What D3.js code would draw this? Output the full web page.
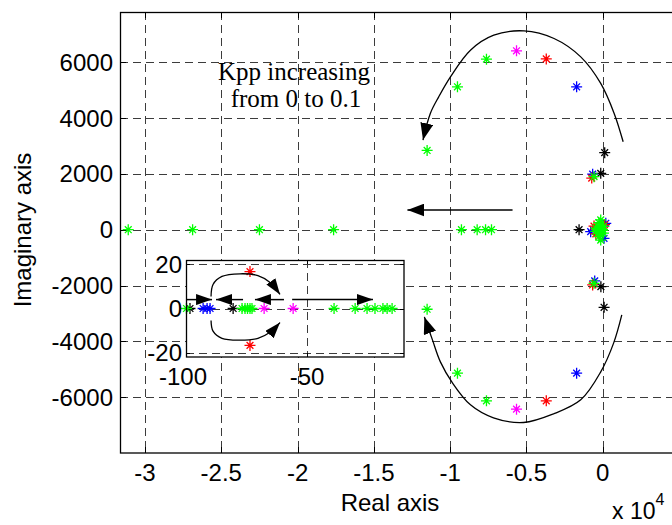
<!DOCTYPE html>
<html>
<head>
<meta charset="utf-8">
<script src="https://cdn.jsdelivr.net/npm/d3@7"></script>
<style>
  body { margin: 0; background: #fff; }
  text { font-family: "Liberation Sans", Arial, Helvetica, sans-serif; }
</style>
</head>
<body>
<svg id="chart" width="672" height="525"></svg>
<script>
// ---- Root locus data: closed-loop poles [real, imag] for each colour ----
const polesBlack = [[-1550, 0], [130, 2760], [-130, 2020], [-120, -2040], [90, -2780]];
const polesBlue = [[-1710, 5120], [-1710, -5140], [-660, 1990], [-525, -1835],
                   [-790, -70], [200, 230], [85, -310]];
const polesRed = [[-3700, 6120], [-3700, -6130], [-720, 1850], [-660, -1980],
                  [-570, 130], [-450, -150], [120, 180]];
const polesMagenta = [[-5650, 6410], [-5650, -6430]];
const polesGreen = [[-7620, 6110], [-7620, -6130], [-9520, 5120], [-9520, -5140],
                    [-11510, 2840], [-11510, -2850],
                    [-31100, 0], [-26880, 0], [-22500, 0], [-17640, 0],
                    [-9260, 0], [-8230, 0], [-7680, 0], [-7290, 0],
                    [-570, 1900], [-570, -1920],
                    [-130, 350], [-130, -370], [-350, 0], [-150, 150], [-150, -150],
                    [-450, 60], [-450, -60], [50, 120], [50, -120], [-250, 250], [-250, -250]];

// Poles close to the origin (shown enlarged in the inset)
const nearBlack = [[-97.2, 0], [-79.8, 0]];
const nearBlue = [[-91.9, 0], [-90.3, 0], [-89.1, 0]];
const nearRed = [[-73, 16.6], [-73, -16.6]];
const nearMagenta = [[-67.3, 0], [-55.6, 0]];
const nearGreen = [[-98.6, 0], [-76.2, 0], [-75, 0], [-74, 0], [-73, 0], [-72.2, 0],
                   [-39.1, 0], [-30.6, 0], [-25.8, 0], [-22.6, 0], [-19.4, 0], [-17.7, 0], [-15.7, 0]];

// Axis ticks
const xTicks = [-30000, -25000, -20000, -15000, -10000, -5000, 0];
const yTicks = [-6000, -4000, -2000, 0, 2000, 4000, 6000];
const insetXTicks = [-100, -50];
const insetYTicks = [-20, 0, 20];

// Direction arrows (data coordinates)
const arcUpper = [[1340, 3150], [750, 4166], [-130, 5240], [-1440, 6192], [-3190, 6851],
                  [-5160, 7123], [-7140, 6969], [-8670, 6432], [-9980, 5476],
                  [-10750, 4760], [-11300, 4166], [-11780, 3210]];
const arcLower = [[1250, -3053], [720, -4055], [-130, -5093], [-1440, -6095], [-3220, -6596],
                  [-5190, -6907], [-7160, -6739], [-8670, -6274], [-9850, -5487],
                  [-10640, -4735], [-11160, -3948], [-11690, -3124]];
const arrowLeft = [[-5910, 705], [-12800, 705]];

const insetArcUpper = [[-88.7, 5.4], [-87.9, 10.8], [-84.3, 14.4], [-77.0, 15.6],
                       [-69.8, 14.8], [-64.9, 11.7], [-60.9, 6.3]];
const insetArcLower = [[-88.7, -5.4], [-87.9, -10.2], [-84.3, -13.4], [-77.0, -14.2],
                       [-69.8, -13.4], [-64.9, -10.7], [-60.9, -6.3]];
const insetArrows = [
  [[-98.4, 4.0], [-88.3, 4.0]],
  [[-75.8, 4.0], [-86.7, 4.0]],
  [[-59.3, 4.0], [-71.0, 4.0]],
  [[-56.0, 4.0], [-23.4, 4.0]]
];

const annotation = ["Kpp increasing", "from 0 to 0.1"];

// ---- Layout ----
const svg = d3.select("#chart");
const x = d3.scaleLinear().domain([-31640, 5000]).range([120, 679]);
const y = d3.scaleLinear().domain([-8000, 7800]).range([453, 12]);
const xi = d3.scaleLinear().domain([-98.8, -10.9]).range([186, 404]);
const yi = d3.scaleLinear().domain([-21.8, 21.8]).range([357, 260]);

const colors = { black: "#000000", blue: "#0000ff", red: "#ff0000", magenta: "#ff00ff", green: "#00ff00" };
const fmt = v => String(v);

svg.append("rect").attr("width", 672).attr("height", 525).attr("fill", "#fff");

// arrowhead markers
const defs = svg.append("defs");
function marker(id, len, half) {
  defs.append("marker")
    .attr("id", id).attr("markerUnits", "userSpaceOnUse")
    .attr("viewBox", `0 ${-half} ${len} ${2 * half}`)
    .attr("refX", len).attr("refY", 0)
    .attr("markerWidth", len).attr("markerHeight", 2 * half)
    .attr("orient", "auto")
    .append("path").attr("d", `M0,${-half}L${len},0L0,${half}Z`).attr("fill", "#000");
}
marker("headBig", 17, 6.5);
marker("headSmall", 16, 5.5);

defs.append("clipPath").attr("id", "plotClip")
  .append("rect").attr("x", 120).attr("y", 12).attr("width", 559).attr("height", 441);

// star marker (MATLAB-like '*')
function starPath(a, b) {
  return `M${-a},0L${a},0M0,${-a}L0,${a}M${-b},${-b}L${b},${b}M${-b},${b}L${b},${-b}`;
}
function drawStars(g, data, color, sx, sy) {
  g.selectAll(null).data(data).enter().append("path")
    .attr("d", starPath(5.5, 3.4))
    .attr("transform", d => `translate(${sx(d[0])},${sy(d[1])})`)
    .attr("fill", "none").attr("stroke", color).attr("stroke-width", 1.3);
}

// ---- Main axes ----
const main = svg.append("g");
const grid = main.append("g").attr("stroke", "#3c3c3c").attr("stroke-width", 1)
  .attr("stroke-dasharray", "8,5").attr("fill", "none");
grid.selectAll(null).data(xTicks).enter().append("line")
  .attr("x1", d => Math.round(x(d)) + 0.5).attr("x2", d => Math.round(x(d)) + 0.5)
  .attr("y1", 12).attr("y2", 453);
grid.selectAll(null).data(yTicks).enter().append("line")
  .attr("y1", d => Math.round(y(d)) + 0.5).attr("y2", d => Math.round(y(d)) + 0.5)
  .attr("x1", 120).attr("x2", 679);

// tick marks (inward) and frame
const ticks = main.append("g").attr("stroke", "#000").attr("stroke-width", 1);
xTicks.forEach(v => {
  const px = Math.round(x(v)) + 0.5;
  ticks.append("line").attr("x1", px).attr("x2", px).attr("y1", 453).attr("y2", 447);
  ticks.append("line").attr("x1", px).attr("x2", px).attr("y1", 12).attr("y2", 18);
});
yTicks.forEach(v => {
  const py = Math.round(y(v)) + 0.5;
  ticks.append("line").attr("x1", 120).attr("x2", 126).attr("y1", py).attr("y2", py);
});

// pole markers
const pts = main.append("g").attr("clip-path", "url(#plotClip)");
drawStars(pts, polesBlack.concat(nearBlack), colors.black, x, y);
drawStars(pts, polesBlue.concat(nearBlue), colors.blue, x, y);
drawStars(pts, polesRed.concat(nearRed), colors.red, x, y);
drawStars(pts, polesMagenta.concat(nearMagenta), colors.magenta, x, y);
drawStars(pts, polesGreen.concat(nearGreen), colors.green, x, y);

// direction arrows
const curve = d3.line().x(d => x(d[0])).y(d => y(d[1])).curve(d3.curveCatmullRom.alpha(0.5));
[arcUpper, arcLower].forEach(a => {
  main.append("path").attr("d", curve(a)).attr("fill", "none")
    .attr("stroke", "#000").attr("stroke-width", 1.3).attr("marker-end", "url(#headBig)");
});
main.append("path").attr("d", d3.line().x(d => x(d[0])).y(d => y(d[1]))(arrowLeft))
  .attr("fill", "none").attr("stroke", "#000").attr("stroke-width", 1.5)
  .attr("marker-end", "url(#headBig)");

// annotation text
main.append("g").selectAll(null).data(annotation).enter().append("text")
  .attr("x", (d, i) => i === 0 ? 294 : 296).attr("y", (d, i) => 80 + i * 27)
  .attr("text-anchor", "middle")
  .style("font-family", '"Liberation Serif", "Times New Roman", serif')
  .style("font-size", "25px").attr("fill", "#000").text(d => d);

// frame
main.append("rect").attr("x", 120.5).attr("y", 12.5).attr("width", 559).attr("height", 440.5)
  .attr("fill", "none").attr("stroke", "#000").attr("stroke-width", 1.3);

// tick labels
main.append("g").selectAll(null).data(xTicks).enter().append("text")
  .attr("x", d => x(d)).attr("y", 481).attr("text-anchor", "middle")
  .style("font-size", "24px").text(d => fmt(d / 10000));
main.append("g").selectAll(null).data(yTicks).enter().append("text")
  .attr("x", 113).attr("y", d => y(d) + 8.5).attr("text-anchor", "end")
  .style("font-size", "24px").text(d => fmt(d));

// axis titles
main.append("text").attr("x", 390).attr("y", 511).attr("text-anchor", "middle")
  .style("font-size", "24px").text("Real axis");
main.append("text").attr("transform", "translate(31,230) rotate(-90)")
  .attr("text-anchor", "middle").style("font-size", "24px").text("Imaginary axis");
const expo = main.append("text").attr("x", 612).attr("y", 519).style("font-size", "23px");
expo.append("tspan").text("x 10");
expo.append("tspan").attr("dy", -14).style("font-size", "16px").text("4");

// ---- Inset (enlarged view near the origin) ----
const inset = svg.append("g");
inset.append("rect").attr("x", 186).attr("y", 260).attr("width", 218).attr("height", 97)
  .attr("fill", "#fff");
const igrid = inset.append("g").attr("stroke", "#3c3c3c").attr("stroke-width", 1)
  .attr("stroke-dasharray", "8,5");
insetYTicks.forEach(v => {
  const py = Math.round(yi(v)) + 0.5;
  igrid.append("line").attr("x1", 186).attr("x2", 404).attr("y1", py).attr("y2", py);
});
insetXTicks.filter(v => v >= xi.domain()[0]).forEach(v => {
  const px = Math.round(xi(v)) + 0.5;
  igrid.append("line").attr("x1", px).attr("x2", px).attr("y1", 260).attr("y2", 357);
});
const iticks = inset.append("g").attr("stroke", "#000").attr("stroke-width", 1);
insetYTicks.forEach(v => {
  const py = Math.round(yi(v)) + 0.5;
  iticks.append("line").attr("x1", 186).attr("x2", 190).attr("y1", py).attr("y2", py);
  iticks.append("line").attr("x1", 404).attr("x2", 400).attr("y1", py).attr("y2", py);
});
insetXTicks.filter(v => v >= xi.domain()[0]).forEach(v => {
  const px = Math.round(xi(v)) + 0.5;
  iticks.append("line").attr("x1", px).attr("x2", px).attr("y1", 357).attr("y2", 353);
  iticks.append("line").attr("x1", px).attr("x2", px).attr("y1", 260).attr("y2", 264);
});

drawStars(inset, nearBlack, colors.black, xi, yi);
drawStars(inset, nearBlue, colors.blue, xi, yi);
drawStars(inset, nearRed, colors.red, xi, yi);
drawStars(inset, nearMagenta, colors.magenta, xi, yi);
drawStars(inset, nearGreen, colors.green, xi, yi);

const icurve = d3.line().x(d => xi(d[0])).y(d => yi(d[1])).curve(d3.curveCatmullRom.alpha(0.5));
[insetArcUpper, insetArcLower].forEach(a => {
  inset.append("path").attr("d", icurve(a)).attr("fill", "none")
    .attr("stroke", "#000").attr("stroke-width", 1.3).attr("marker-end", "url(#headSmall)");
});
const iline = d3.line().x(d => xi(d[0])).y(d => yi(d[1]));
insetArrows.forEach(a => {
  inset.append("path").attr("d", iline(a)).attr("fill", "none")
    .attr("stroke", "#000").attr("stroke-width", 1.5).attr("marker-end", "url(#headSmall)");
});

inset.append("rect").attr("x", 186.5).attr("y", 260.5).attr("width", 217.5).attr("height", 96.5)
  .attr("fill", "none").attr("stroke", "#000").attr("stroke-width", 1.3);

inset.append("g").selectAll(null).data(insetYTicks).enter().append("text")
  .attr("x", 182).attr("y", d => yi(d) + 8.5).attr("text-anchor", "end")
  .style("font-size", "24px").text(d => fmt(d));
inset.append("g").selectAll(null).data(insetXTicks).enter().append("text")
  .attr("x", d => xi(d)).attr("y", 385).attr("text-anchor", "middle")
  .style("font-size", "24px").text(d => fmt(d));
</script>
</body>
</html>
